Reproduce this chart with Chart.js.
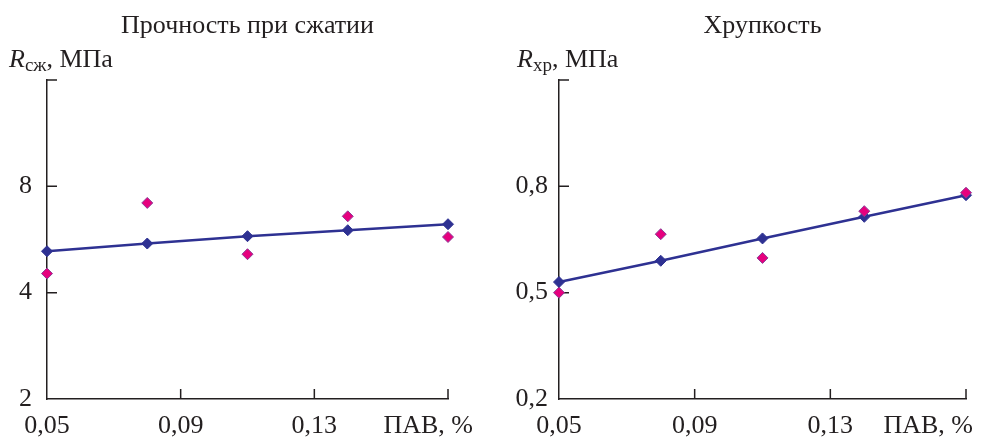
<!DOCTYPE html>
<html>
<head>
<meta charset="utf-8">
<script src="https://cdn.jsdelivr.net/npm/chart.js@4.4.0/dist/chart.umd.min.js"></script>
<style>
  body { margin: 0; background: #fff; }
  .wrap { position: relative; width: 998px; height: 440px; }
  .wrap div { position: absolute; top: 0; width: 499px; height: 440px; }
</style>
</head>
<body>
<div class="wrap">
  <div style="left:0"><canvas id="left" width="499" height="440"></canvas></div>
  <div style="left:499px"><canvas id="right" width="499" height="440"></canvas></div>
</div>
<script>
// surfactant content, %
const xValues = [0.05, 0.08, 0.11, 0.14, 0.17];
const xTickValues = [0.05, 0.09, 0.13, 0.17];
const xTickLabels = ['0,05', '0,09', '0,13', ''];

// compressive strength, MPa
const strengthTrend = [5.24, 5.51, 5.78, 6.01, 6.25];
const strengthMeasured = [4.53, 7.18, 5.14, 6.58, 5.75];
const strengthTicks = [2, 4, 8, 16];
const strengthTickLabels = ['2', '4', '8', ''];

// brittleness, MPa
const brittleTrend = [0.530, 0.590, 0.653, 0.714, 0.775];
const brittleMeasured = [0.500, 0.665, 0.598, 0.730, 0.782];
const brittleTicks = [0.2, 0.5, 0.8, 1.1];
const brittleTickLabels = ['0,2', '0,5', '0,8', ''];

const FONT = '"Liberation Serif", "Times New Roman", serif';
const NAVY = '#2E3192';
const PINK = '#E6007E';
const INK = '#231F20';

const pts = ys => ys.map((y, i) => ({ x: xValues[i], y: y }));

// inward tick marks, titles and axis captions
const captions = {
  id: 'captions',
  beforeDatasetsDraw(chart) {
    const ctx = chart.ctx;
    const area = chart.chartArea;
    const xs = chart.scales.x, ys = chart.scales.y;
    ctx.save();
    ctx.strokeStyle = INK;
    ctx.lineWidth = 1.5;
    ctx.beginPath();
    ys.ticks.slice(1).forEach(t => {
      const y = ys.getPixelForValue(t.value);
      ctx.moveTo(area.left, y);
      ctx.lineTo(area.left + 10, y);
    });
    xs.ticks.slice(1).forEach(t => {
      const x = xs.getPixelForValue(t.value);
      ctx.moveTo(x, area.bottom);
      ctx.lineTo(x, area.bottom - 10);
    });
    ctx.stroke();
    ctx.restore();
  },
  afterDraw(chart) {
    const o = chart.options.plugins.captions;
    const ctx = chart.ctx;
    const area = chart.chartArea;
    ctx.save();
    ctx.fillStyle = INK;
    ctx.textBaseline = 'alphabetic';
    ctx.font = '26px ' + FONT;
    ctx.textAlign = 'center';
    ctx.fillText(o.title, (area.left + area.right) / 2, 33);

    ctx.textAlign = 'left';
    let x = o.yLabelX;
    ctx.font = 'italic 26px ' + FONT;
    ctx.fillText('R', x, 67);
    x += ctx.measureText('R').width;
    ctx.font = '19px ' + FONT;
    ctx.fillText(o.sub, x, 71);
    x += ctx.measureText(o.sub).width;
    ctx.font = '26px ' + FONT;
    ctx.fillText(', МПа', x, 67);

    ctx.textAlign = 'right';
    ctx.fillText('ПАВ, %', o.xLabelRight, 433);
    ctx.restore();
  }
};

function makeChart(id, cfg) {
  return new Chart(document.getElementById(id), {
    type: 'line',
    data: {
      datasets: [
        {
          data: pts(cfg.measured),
          showLine: false,
          clip: false,
          pointStyle: 'rectRot',
          pointRadius: 5.5,
          backgroundColor: PINK,
          borderColor: '#8A3C96',
          borderWidth: 1,
          order: 0
        },
        {
          data: pts(cfg.trend),
          clip: false,
          borderColor: NAVY,
          borderWidth: 2.5,
          pointStyle: 'rectRot',
          pointRadius: 5.5,
          pointBackgroundColor: NAVY,
          pointBorderColor: NAVY,
          pointBorderWidth: 1,
          order: 1
        }
      ]
    },
    options: {
      responsive: false,
      animation: false,
      layout: { padding: { left: 0, right: cfg.padRight, top: 80, bottom: 0 } },
      plugins: {
        legend: { display: false },
        tooltip: { enabled: false },
        captions: cfg.captions
      },
      scales: {
        x: {
          type: 'linear',
          min: 0.05,
          max: 0.17,
          afterBuildTicks: s => { s.ticks = xTickValues.map(v => ({ value: v })); },
          afterFit: s => { s.height = 41; },
          ticks: {
            padding: 12,
            color: INK,
            font: { family: FONT, size: 26 },
            maxRotation: 0,
            autoSkip: false,
            callback: (v, i) => xTickLabels[i]
          },
          grid: { drawOnChartArea: false, drawTicks: false },
          border: { color: INK, width: 1.5 }
        },
        y: {
          type: cfg.yType,
          min: cfg.yTicks[0],
          max: cfg.yTicks[cfg.yTicks.length - 1],
          afterBuildTicks: s => { s.ticks = cfg.yTicks.map(v => ({ value: v })); },
          afterFit: s => { s.width = cfg.yWidth; },
          ticks: {
            padding: cfg.yPad,
            color: INK,
            font: { family: FONT, size: 26 },
            autoSkip: false,
            callback: (v, i) => cfg.yTickLabels[i]
          },
          grid: { drawOnChartArea: false, drawTicks: false },
          border: { color: INK, width: 1.5 }
        }
      }
    },
    plugins: [captions]
  });
}

makeChart('left', {
  trend: strengthTrend,
  measured: strengthMeasured,
  yType: 'logarithmic',
  yTicks: strengthTicks,
  yTickLabels: strengthTickLabels,
  yWidth: 47,
  yPad: 15,
  padRight: 51,
  captions: { title: 'Прочность при сжатии', sub: 'сж', yLabelX: 9, xLabelRight: 473 }
});

makeChart('right', {
  trend: brittleTrend,
  measured: brittleMeasured,
  yType: 'linear',
  yTicks: brittleTicks,
  yTickLabels: brittleTickLabels,
  yWidth: 60,
  yPad: 11,
  padRight: 32,
  captions: { title: 'Хрупкость', sub: 'хр', yLabelX: 18, xLabelRight: 474 }
});
</script>
</body>
</html>
